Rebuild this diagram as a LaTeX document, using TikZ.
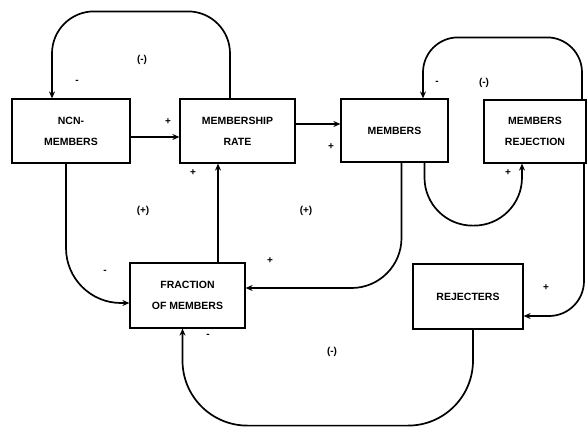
\documentclass[tikz,border=0pt]{standalone}
\usepackage{fontspec}
\setmainfont{Liberation Sans}
\usepackage{tikz}
\usetikzlibrary{arrows.meta, positioning, calc}

\begin{document}
\begin{tikzpicture}[
  x=1pt, y=-1pt,
  box/.style={draw, line width=1.2pt, minimum height=64pt, font=\bfseries\fontsize{10.5}{21}\selectfont, align=center, inner sep=2pt},
  link/.style={draw, line width=1.7pt, -{Stealth[length=7pt, width=6pt]}},
  sgn/.style={font=\bfseries\fontsize{10}{10}\selectfont, inner sep=0pt},
]
  \useasboundingbox (0,0) rectangle (587,429);

  % Nodes
  \node[box, minimum width=118pt] (NCN) at (71,131) {NCN-\\MEMBERS};
  \node[box, minimum width=115pt] (MR) at (237.5,131) {MEMBERSHIP\\RATE};
  \node[box, minimum width=107pt, minimum height=63pt] (MEM) at (394.5,130.5) {MEMBERS};
  \node[box, minimum width=102pt, minimum height=63pt] (MREJ) at (535,131.5) {MEMBERS\\REJECTION};
  \node[box, minimum width=115pt, minimum height=65pt] (FRAC) at (187.5,295.5) {FRACTION\\OF MEMBERS};
  \node[box, minimum width=110pt, minimum height=65pt] (RJT) at (468,296.5) {REJECTERS};

  % Edges
  \draw[link, rounded corners=42pt] ([xshift=-7.5pt]MR.north) -- ++(0,-87) -| ([xshift=-19pt]NCN.north);
  \draw[link] ([yshift=-6pt]NCN.east) -- ([yshift=-6pt]MR.west);
  \draw[link] ([yshift=7pt]MR.east) -- ([yshift=6.5pt]MEM.west);
  \draw[link, rounded corners=55pt] ([xshift=-5pt]NCN.south) |- ([yshift=-7.5pt]FRAC.west);
  \draw[link] ([xshift=30.5pt]FRAC.north) -- ([xshift=-19.5pt]MR.south);
  \draw[link, rounded corners=50pt] ([xshift=7pt]MEM.south) |- ([yshift=7.5pt]FRAC.east);
  \draw[link, rounded corners=48pt] ([xshift=30pt]MEM.south) -- ++(0,63) -| ([xshift=-13pt]MREJ.south);
  \draw[link, rounded corners=35pt] ([xshift=47pt]MREJ.north) -- ++(0,-62) -| ([xshift=28.5pt]MEM.north);
  \draw[link, rounded corners=35pt] ([xshift=49pt]MREJ.south) |- ([yshift=-19.5pt]RJT.east);
  \draw[link, rounded corners=65pt] ([xshift=5pt]RJT.south) -- ++(0,96) -| ([xshift=-5pt]FRAC.south);

  % Signs
  \node[sgn] (s1) at (142,60) {(-)};
  \node[sgn] (s2) at (77,82) {-};
  \node[sgn] (s3) at (168,122) {+};
  \node[sgn] (s4) at (193,173) {+};
  \node[sgn] (s5) at (143,211) {(+)};
  \node[sgn] (s6) at (105,272) {-};
  \node[sgn] (s7) at (331,147) {+};
  \node[sgn] (s8) at (306,211) {(+)};
  \node[sgn] (s9) at (270,261) {+};
  \node[sgn] (s10) at (208,336) {-};
  \node[sgn] (s11) at (332,352) {(-)};
  \node[sgn] (s12) at (437,83) {-};
  \node[sgn] (s13) at (484,83) {(-)};
  \node[sgn] (s14) at (508,173) {+};
  \node[sgn] (s15) at (546,288) {+};
\end{tikzpicture}
\end{document}
